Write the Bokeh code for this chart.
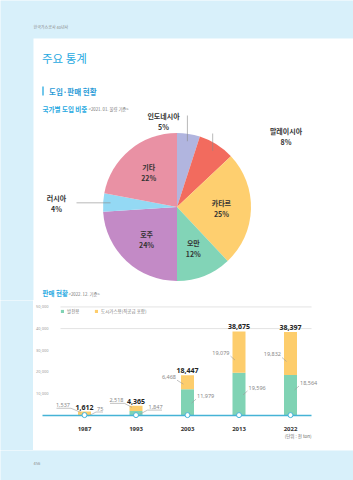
import math
from bokeh.plotting import figure
from bokeh.models import (Range1d, LinearAxis, FixedTicker, NumeralTickFormatter,
                          Legend, LegendItem)
from bokeh.layouts import column, row
from bokeh.embed import file_html
from bokeh.resources import INLINE
from bokeh.core.properties import value

# ---------------- data ----------------
countries = ["인도네시아", "말레이시아", "카타르", "오만", "호주", "러시아", "기타"]
shares = [5, 8, 25, 12, 24, 4, 22]
pie_colors = ["#b1b5df", "#f26b5e", "#fecf6f", "#82d4b7", "#c38ac6", "#94d9f4", "#e991a4"]

years = ["1987", "1993", "2003", "2013", "2022"]
power = [75, 1847, 11979, 19596, 18564]          # 발전용
city_gas = [1537, 2518, 6468, 19079, 19832]      # 도시가스용(직공급 포함)
totals = [1612, 4365, 18447, 38675, 38397]
y_ticks = [10000, 20000, 30000, 40000, 50000]
grid_ticks = [40000, 50000]
series_names = ["발전용", "도시가스용(직공급 포함)"]

# ---------------- style ----------------
KR = "Noto Sans CJK KR"
NUM = "Noto Sans"
BG_BLUE = "#d8f0fa"
TITLE_BLUE = "#27a9e1"
GREEN = "#80d3b4"
YELLOW = "#fdcd6c"
AXIS_BLUE = "#45b3d6"
W = 353
STRIP = 33
TOP_H = 300
BAR_H = 150
FOOT_H = 30


def Y(py):
    return TOP_H - py


def txt(fig, x, y, s, size, color, bold=False, align="left", baseline="middle", font=KR):
    fig.text(x=[x], y=[y], text=[s], text_font=value(font), text_font_size=f"{size}px",
             text_color=color, text_font_style="bold" if bold else "normal",
             text_align=align, text_baseline=baseline)


def blank(width, height, xr, yr, bg, border):
    return figure(width=width, height=height, x_range=Range1d(*xr), y_range=Range1d(*yr),
                  output_backend="svg", toolbar_location=None, min_border=0,
                  x_axis_type=None, y_axis_type=None, outline_line_color=None,
                  background_fill_color=bg, border_fill_color=border)


# ---------------- top figure: header + pie ----------------
top = blank(W, TOP_H, (0, W), (0, TOP_H), BG_BLUE, BG_BLUE)
top.quad(left=STRIP, right=W, bottom=0, top=Y(38), fill_color="white", line_color=None)

txt(top, 33, Y(26), "한국가스공사 40년사", 4, "#8a8a8a")
txt(top, 41.5, Y(57), "주요 통계", 11.5, TITLE_BLUE)
top.segment(x0=[42.5], y0=[Y(86)], x1=[42.5], y1=[Y(95)], line_color=TITLE_BLUE, line_width=1.3)
txt(top, 48.5, Y(90.5), "도입·판매 현황", 7.5, "#2a9bd7", bold=True)
txt(top, 42, Y(108), "국가별 도입 비중", 6.5, TITLE_BLUE, bold=True)
txt(top, 88, Y(108.5), "<2021. 01. 물량 기준>", 4.3, "#777777")
txt(top, 42, Y(292.5), "판매 현황", 6.5, TITLE_BLUE, bold=True)
txt(top, 68, Y(293), "<2022. 12. 기준>", 4.3, "#777777")

# pie
cx, cy, R = 176.5, Y(206.5), 74
starts, ends, mids = [], [], []
cum = 0
for s in shares:
    a0, a1 = cum / 100, (cum + s) / 100
    starts.append(math.pi / 2 - 2 * math.pi * a0)
    ends.append(math.pi / 2 - 2 * math.pi * a1)
    mids.append((a0 + a1) / 2)
    cum += s
top.wedge(x=cx, y=cy, radius=R, start_angle=starts, end_angle=ends, direction="clock",
          fill_color=pie_colors, line_color=None)

PIE_FS = 7
PIE_COL = "#333333"
# outside labels: slice index -> (label centre page px, leader direction, leader end)
OUTSIDE = {0: ((163, 121), "v", 115), 1: ((285.5, 135.5), "v", 133), 5: ((56, 202.5), "h", 76)}
for i, (name, s) in enumerate(zip(countries, shares)):
    m = 2 * math.pi * mids[i]
    if i in OUTSIDE:
        (lx, ly), d, end = OUTSIDE[i]
        sx, sy = cx + 0.9 * R * math.sin(m), cy + 0.9 * R * math.cos(m)
        if d == "v":
            ex, ey = sx, Y(end)
        else:
            ex, ey = end, sy
        top.segment(x0=[sx], y0=[sy], x1=[ex], y1=[ey], line_color="#8a8a8a", line_width=0.6)
        px, py = lx, Y(ly)
    else:
        px, py = cx + 0.6 * R * math.sin(m), cy + 0.6 * R * math.cos(m)
    top.text(x=[px], y=[py], text=[name], text_font=value(KR), text_font_size=f"{PIE_FS}px",
             text_color=PIE_COL, text_font_style="bold", text_align="center",
             text_baseline="middle", y_offset=-5.5)
    top.text(x=[px], y=[py], text=[f"{s}%"], text_font=value(KR), text_font_size=f"{PIE_FS}px",
             text_color=PIE_COL, text_font_style="bold", text_align="center",
             text_baseline="middle", y_offset=5.5)

# ---------------- bar figure ----------------
PX_X = 51.5            # px per category step
X0_PAGE = 84           # page x of first category
PXY = 21.63 / 10000    # px per data unit
Y0_PAGE = 414.6        # page y of value 0


def xd(px):
    return (px - X0_PAGE) / PX_X


def yd(py):
    return (Y0_PAGE - py) / PXY


bar = blank(W - STRIP, BAR_H, (xd(STRIP), xd(W)), (yd(TOP_H + BAR_H), yd(TOP_H)), "white", "white")

idx = list(range(len(years)))
bw = 13 / PX_X
bar.segment(x0=xd(60), x1=xd(311), y0=grid_ticks, y1=grid_ticks, line_color="#dcdcdc", line_width=0.8)
tops = [p + c for p, c in zip(power, city_gas)]
rg = bar.vbar(x=idx, width=bw, bottom=0, top=power, fill_color=GREEN, line_color=None)
ry = bar.vbar(x=idx, width=bw, bottom=power, top=tops, fill_color=YELLOW, line_color=None)

yaxis = LinearAxis(fixed_location=xd(57), ticker=FixedTicker(ticks=y_ticks),
                   formatter=NumeralTickFormatter(format="0,0"),
                   axis_line_color=None, major_tick_line_color=None, minor_tick_line_color=None,
                   major_label_text_font_size="4px", major_label_text_color="#9a9a9a",
                   major_label_text_font=NUM, major_label_standoff=3)
bar.add_layout(yaxis, "left")

xaxis = LinearAxis(fixed_location=0, bounds=(xd(42), xd(311)), ticker=FixedTicker(ticks=idx),
                   major_label_overrides={i: y for i, y in zip(idx, years)},
                   axis_line_color=AXIS_BLUE, axis_line_width=1.3,
                   major_tick_line_color=None, minor_tick_line_color=None,
                   major_label_text_font_size="6px", major_label_text_font_style="bold",
                   major_label_text_color="#333333", major_label_text_font=NUM,
                   major_label_standoff=6)
bar.add_layout(xaxis, "below")

bar.scatter(x=idx, y=[0] * len(idx), size=5, fill_color="white", line_color=AXIS_BLUE,
            line_width=1, level="overlay")

# totals
bar.text(x=idx, y=tops, text=[f"{t:,}" for t in totals], text_font=value(NUM),
         text_font_size="7px", text_font_style="bold", text_color="#222222",
         text_align="center", text_baseline="bottom", y_offset=-2)

# component labels with leaders (offsets in px)
Y_DX = [8, 6, 5, 3, 3]
Y_DY = [-8, -8, -5, 1, 1]
G_DX = [6, 6, 3, 3, 3]
G_DY = [-6, -6, -6, -6, -12]
UNDERLINE = [True, True, False, False, False]


def tw(s):
    return sum(1.5 if ch == "," else 3.0 for ch in s)


lab_x, lab_y, lab_t, lab_a = [], [], [], []
lx_all, ly_all = [], []
for k in idx:
    # city gas (left label)
    ymid = power[k] + city_gas[k] / 2
    s = f"{city_gas[k]:,}"
    rx = k - bw / 2 - Y_DX[k] / PX_X
    cyd = ymid - Y_DY[k] / PXY
    lab_x.append(rx); lab_y.append(cyd); lab_t.append(s); lab_a.append("right")
    c_x, c_y = rx + 1 / PX_X, cyd - 3 / PXY
    e_x, e_y = k - bw / 2 + 2.5 / PX_X, cyd - 7 / PXY
    xs, ys = [c_x, e_x], [c_y, e_y]
    if UNDERLINE[k]:
        xs, ys = [c_x - (tw(s) + 1) / PX_X] + xs, [c_y] + ys
    lx_all.append(xs); ly_all.append(ys)
    # power (right label)
    gmid = power[k] / 2
    s = f"{power[k]:,}"
    lx = k + bw / 2 + G_DX[k] / PX_X
    cyd = gmid - G_DY[k] / PXY
    lab_x.append(lx); lab_y.append(cyd); lab_t.append(s); lab_a.append("left")
    c_x, c_y = lx - 1 / PX_X, cyd - 3 / PXY
    e_x, e_y = k + bw / 2 - 2.5 / PX_X, cyd - 7 / PXY
    xs, ys = [c_x, e_x], [c_y, e_y]
    if UNDERLINE[k]:
        xs, ys = [c_x + (tw(s) + 1) / PX_X] + xs, [c_y] + ys
    lx_all.append(xs); ly_all.append(ys)

bar.multi_line(xs=lx_all, ys=ly_all, line_color="#9a9a9a", line_width=0.6)
bar.text(x=lab_x, y=lab_y, text=lab_t, text_align=lab_a, text_font=value(NUM),
         text_font_size="5.5px", text_color="#888888", text_baseline="middle")

bar.text(x=[xd(311)], y=[yd(435)], text=["(단위 : 천 ton)"], text_font=value(KR),
         text_font_size="4.5px", text_color="#666666", text_align="right", text_baseline="middle")

legend = Legend(items=[LegendItem(label=series_names[0], renderers=[rg]),
                       LegendItem(label=series_names[1], renderers=[ry])],
                location=(27, 136), orientation="horizontal", padding=0, margin=0,
                spacing=7, glyph_width=4, glyph_height=4, label_height=5, label_standoff=3,
                label_text_font=KR, label_text_font_size="4.5px", label_text_color="#777777",
                border_line_color=None, background_fill_alpha=0)
bar.add_layout(legend, "center")

strip = blank(STRIP, BAR_H, (0, 1), (0, 1), BG_BLUE, BG_BLUE)

# ---------------- footer ----------------
foot = blank(W, FOOT_H, (0, W), (0, FOOT_H), BG_BLUE, BG_BLUE)
txt(foot, 33, FOOT_H - (463 - 450), "456", 4, "#8a8a8a")

p = column(top, row(strip, bar, spacing=0), foot, spacing=0)
open("out.html", "w").write(file_html(p, INLINE))
